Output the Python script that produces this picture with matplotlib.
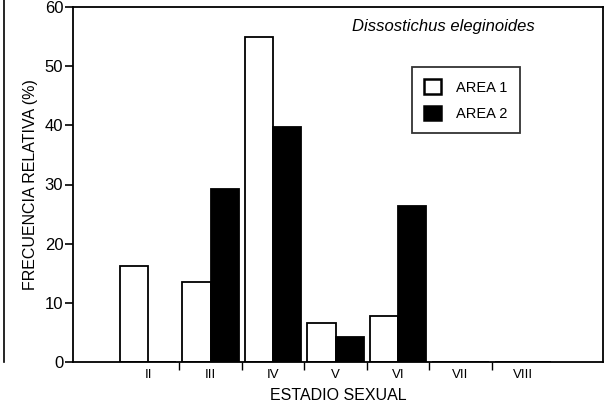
import matplotlib
matplotlib.use("Agg")
import matplotlib.pyplot as plt
from matplotlib.patches import Patch
from matplotlib.lines import Line2D
import numpy as np

stages = ["II", "III", "IV", "V", "VI", "VII", "VIII"]
area1 = [16.2, 13.6, 55.0, 6.6, 7.8, 0, 0]
area2 = [0, 29.3, 39.8, 4.3, 26.3, 0, 0]
yticks = [0, 10, 20, 30, 40, 50, 60]

plt.rcParams['font.family'] = ['Liberation Sans', 'DejaVu Sans']

fig = plt.figure(figsize=(6.05, 4.08), dpi=100)
ax = fig.add_axes([73/605, 1-362/408, (603-73)/605, (362-7)/408])

x = np.arange(len(stages))
w = 0.45
ax.bar(x - w/2, area1, width=w, facecolor='white', edgecolor='black', linewidth=1.3, label='AREA 1')
ax.bar(x + w/2, area2, width=w, facecolor='black', edgecolor='black', linewidth=1.3, label='AREA 2')

ax.set_xlim(-1.2, 7.28)
ax.set_ylim(0, 60)
ax.set_yticks(yticks)
ax.set_yticklabels([str(t) for t in yticks], fontsize=12)
ax.tick_params(axis='y', direction='out', length=6, width=1.2, pad=1)

ax.set_xticks(x)
ax.set_xticklabels(stages, fontsize=9.5)
ax.tick_params(axis='x', which='major', length=0, pad=5)
ax.set_xticks(x[:-1] + 0.5, minor=True)
ax.tick_params(axis='x', which='minor', direction='out', length=6, width=1.0)

for s in ax.spines.values():
    s.set_linewidth(1.3)

ax.set_xlabel("ESTADIO SEXUAL", fontsize=11.5, labelpad=5)
ax.set_ylabel("FRECUENCIA RELATIVA (%)", fontsize=11.5, labelpad=5)

ax.text((535-73)/530, 0.945, "Dissostichus eleginoides", transform=ax.transAxes,
        ha='right', va='center', fontsize=12, style='italic')

handles = [Patch(facecolor='white', edgecolor='black', linewidth=1.8),
           Patch(facecolor='black', edgecolor='black', linewidth=1.8)]
leg = ax.legend(handles, ['AREA 1', 'AREA 2'], loc='upper left',
                bbox_to_anchor=((412-73)/530, 1-(67-7)/355), fontsize=10.5,
                frameon=True, fancybox=False, edgecolor='black',
                handlelength=1.15, handleheight=1.15, borderpad=0.85,
                labelspacing=0.75, handletextpad=1.0, borderaxespad=0)
leg.get_frame().set_linewidth(1.3)

fig.add_artist(Line2D([4/605, 4/605], [1-362/408, 1.0], color='black', linewidth=1.2))

fig.savefig("out.png", dpi=100)
